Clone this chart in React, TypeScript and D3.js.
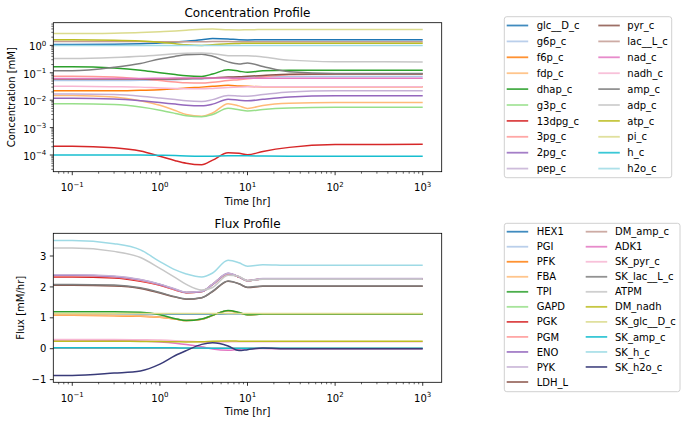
import React from "react";
import * as d3 from "d3";

// time points [hr]
const T = [0.0607, 0.1, 0.3, 0.6, 1, 1.5, 2, 3, 4, 6, 8, 10, 15, 30, 100, 1000];

const TAB20 = [
  "#1f77b4", "#aec7e8", "#ff7f0e", "#ffbb78", "#2ca02c", "#98df8a", "#d62728", "#ff9896",
  "#9467bd", "#c5b0d5", "#8c564b", "#c49c94", "#e377c2", "#f7b6d2", "#7f7f7f", "#c7c7c7",
  "#bcbd22", "#dbdb8d", "#17becf", "#9edae5", "#393b79",
];

// ---- concentrations [mM]
const concNames = [
  "glc__D_c", "g6p_c", "f6p_c", "fdp_c", "dhap_c", "g3p_c", "13dpg_c", "3pg_c", "2pg_c", "pep_c",
  "pyr_c", "lac__L_c", "nad_c", "nadh_c", "amp_c", "adp_c", "atp_c", "pi_c", "h_c", "h2o_c",
];
const glc__D_c = [1.08, 1.08, 1.1, 1.15, 1.22, 1.32, 1.42, 1.6, 1.78, 1.72, 1.6, 1.58, 1.6, 1.6, 1.6, 1.6];
const g6p_c = [0.052, 0.052, 0.052, 0.053, 0.054, 0.056, 0.058, 0.06, 0.063, 0.067, 0.068, 0.069, 0.071, 0.073, 0.074, 0.074];
const f6p_c = [0.022, 0.022, 0.022, 0.023, 0.024, 0.026, 0.028, 0.03, 0.032, 0.035, 0.033, 0.032, 0.031, 0.031, 0.031, 0.031];
const fdp_c = [0.015, 0.015, 0.013, 0.0095, 0.0065, 0.0042, 0.003, 0.0026, 0.0034, 0.0075, 0.0062, 0.005, 0.0064, 0.0077, 0.0083, 0.0083];
const dhap_c = [0.165, 0.165, 0.15, 0.125, 0.1, 0.086, 0.078, 0.074, 0.09, 0.13, 0.115, 0.104, 0.118, 0.124, 0.125, 0.125];
const g3p_c = [0.0074, 0.0074, 0.0069, 0.0056, 0.0043, 0.0033, 0.0027, 0.0025, 0.003, 0.0051, 0.0045, 0.004, 0.0046, 0.0052, 0.0055, 0.0055];
const dpg13_c = [2.1e-4, 2.1e-4, 1.85e-4, 1.4e-4, 9e-5, 6.2e-5, 5e-5, 4.4e-5, 6.5e-5, 1.2e-4, 1.15e-4, 1.02e-4, 1.35e-4, 1.9e-4, 2.4e-4, 2.45e-4];
const pg3_c = [0.075, 0.075, 0.07, 0.06, 0.052, 0.046, 0.043, 0.042, 0.045, 0.052, 0.056, 0.06, 0.07, 0.085, 0.09, 0.09];
const pg2_c = [0.0118, 0.0118, 0.011, 0.0095, 0.0082, 0.0072, 0.0066, 0.0063, 0.0072, 0.0108, 0.01, 0.0095, 0.0108, 0.013, 0.0145, 0.0146];
const pep_c = [0.017, 0.017, 0.016, 0.014, 0.012, 0.0105, 0.0095, 0.009, 0.0105, 0.0148, 0.0142, 0.0138, 0.016, 0.02, 0.022, 0.022];
const pyr_c = [0.06, 0.06, 0.06, 0.06, 0.06, 0.06, 0.061, 0.062, 0.065, 0.07, 0.072, 0.075, 0.08, 0.088, 0.09, 0.09];
const lac__L_c = [1.4, 1.4, 1.4, 1.38, 1.36, 1.35, 1.35, 1.36, 1.38, 1.38, 1.36, 1.35, 1.35, 1.35, 1.35, 1.35];
const nad_c = [0.062, 0.062, 0.062, 0.062, 0.063, 0.064, 0.065, 0.065, 0.065, 0.064, 0.063, 0.063, 0.063, 0.063, 0.063, 0.063];
const nadh_c = [0.032, 0.032, 0.031, 0.03, 0.028, 0.027, 0.026, 0.026, 0.027, 0.029, 0.03, 0.031, 0.031, 0.031, 0.031, 0.031];
const amp_c = [0.12, 0.12, 0.16, 0.22, 0.32, 0.4, 0.46, 0.48, 0.4, 0.25, 0.21, 0.23, 0.17, 0.11, 0.095, 0.095];
const adp_c = [0.33, 0.33, 0.36, 0.4, 0.45, 0.5, 0.52, 0.53, 0.5, 0.42, 0.42, 0.42, 0.38, 0.29, 0.255, 0.25];
const atp_c = [1.6, 1.6, 1.55, 1.45, 1.3, 1.15, 1.05, 1.0, 1.05, 1.15, 1.18, 1.2, 1.2, 1.2, 1.2, 1.2];
const pi_c = [2.7, 2.7, 2.8, 2.95, 3.15, 3.35, 3.55, 3.9, 3.95, 3.7, 3.65, 3.72, 3.78, 3.8, 3.8, 3.8];
const h_c = [1e-4, 1e-4, 1e-4, 1e-4, 9.8e-5, 9.5e-5, 9.2e-5, 9e-5, 9.1e-5, 9.4e-5, 9.4e-5, 9.3e-5, 9.2e-5, 9.1e-5, 9e-5, 9e-5];
const h2o_c = [1, 1, 1, 1, 1, 1, 1, 1, 1, 1, 1, 1, 1, 1, 1, 1];
const concValues = [
  glc__D_c, g6p_c, f6p_c, fdp_c, dhap_c, g3p_c, dpg13_c, pg3_c, pg2_c, pep_c,
  pyr_c, lac__L_c, nad_c, nadh_c, amp_c, adp_c, atp_c, pi_c, h_c, h2o_c,
];

// ---- fluxes [mM/hr]
const fluxNames = [
  "HEX1", "PGI", "PFK", "FBA", "TPI", "GAPD", "PGK", "PGM", "ENO", "PYK", "LDH_L",
  "DM_amp_c", "ADK1", "SK_pyr_c", "SK_lac__L_c", "ATPM", "DM_nadh", "SK_glc__D_c", "SK_amp_c", "SK_h_c", "SK_h2o_c",
];
const HEX1 = [1.13, 1.13, 1.13, 1.13, 1.13, 1.12, 1.12, 1.12, 1.12, 1.13, 1.13, 1.13, 1.13, 1.13, 1.13, 1.13];
const PGI = [1.1, 1.1, 1.09, 1.07, 1.03, 0.97, 0.92, 0.95, 1.08, 1.23, 1.17, 1.1, 1.12, 1.12, 1.12, 1.12];
const PFK = [1.08, 1.08, 1.07, 1.05, 1.02, 0.96, 0.91, 0.95, 1.08, 1.23, 1.16, 1.1, 1.12, 1.12, 1.12, 1.12];
const FBA = [1.09, 1.09, 1.08, 1.06, 1.02, 0.96, 0.91, 0.95, 1.08, 1.23, 1.16, 1.1, 1.12, 1.12, 1.12, 1.12];
const TPI = [1.2, 1.2, 1.2, 1.18, 1.1, 0.97, 0.91, 0.96, 1.08, 1.24, 1.17, 1.1, 1.12, 1.12, 1.12, 1.12];
const GAPD = [2.37, 2.37, 2.33, 2.22, 2.08, 1.92, 1.82, 1.85, 2.08, 2.43, 2.32, 2.2, 2.26, 2.26, 2.26, 2.26];
const PGK = [2.32, 2.32, 2.29, 2.18, 2.05, 1.9, 1.81, 1.85, 2.08, 2.43, 2.32, 2.2, 2.26, 2.26, 2.26, 2.26];
const PGM = [2.36, 2.36, 2.32, 2.21, 2.07, 1.91, 1.82, 1.85, 2.08, 2.43, 2.32, 2.2, 2.26, 2.26, 2.26, 2.26];
const ENO = [2.38, 2.38, 2.34, 2.23, 2.08, 1.92, 1.82, 1.85, 2.08, 2.44, 2.32, 2.2, 2.26, 2.26, 2.26, 2.26];
const PYK = [2.39, 2.39, 2.35, 2.24, 2.09, 1.93, 1.83, 1.86, 2.09, 2.44, 2.33, 2.21, 2.27, 2.27, 2.27, 2.27];
const LDH_L = [2.05, 2.05, 2.03, 1.95, 1.8, 1.67, 1.6, 1.65, 1.85, 2.18, 2.1, 1.98, 2.02, 2.02, 2.02, 2.02];
const DM_amp_c = [0.014, 0.014, 0.014, 0.014, 0.014, 0.014, 0.014, 0.014, 0.014, 0.014, 0.014, 0.014, 0.014, 0.014, 0.014, 0.014];
const ADK1 = [0.28, 0.28, 0.27, 0.25, 0.22, 0.18, 0.14, 0.06, -0.01, -0.05, -0.02, 0, 0.005, 0, 0, 0];
const SK_pyr_c = [0.3, 0.3, 0.3, 0.29, 0.28, 0.26, 0.24, 0.22, 0.21, 0.22, 0.225, 0.224, 0.224, 0.224, 0.224, 0.224];
const SK_lac__L_c = [2.08, 2.08, 2.06, 1.97, 1.82, 1.68, 1.61, 1.65, 1.86, 2.19, 2.1, 1.99, 2.03, 2.03, 2.03, 2.03];
const ATPM = [3.26, 3.26, 3.15, 2.95, 2.6, 2.3, 2.08, 1.9, 1.98, 2.38, 2.34, 2.2, 2.25, 2.25, 2.25, 2.25];
const DM_nadh = [0.24, 0.24, 0.24, 0.235, 0.23, 0.225, 0.22, 0.225, 0.24, 0.25, 0.245, 0.24, 0.24, 0.24, 0.24, 0.24];
const SK_glc__D_c = [1.14, 1.14, 1.14, 1.14, 1.14, 1.14, 1.14, 1.14, 1.14, 1.14, 1.14, 1.14, 1.14, 1.14, 1.14, 1.14];
const SK_amp_c = [0.03, 0.03, 0.03, 0.03, 0.03, 0.028, 0.025, 0.02, 0.018, 0.016, 0.015, 0.015, 0.014, 0.014, 0.014, 0.014];
const SK_h_c = [3.5, 3.5, 3.4, 3.2, 2.82, 2.55, 2.42, 2.32, 2.45, 2.86, 2.78, 2.67, 2.72, 2.7, 2.7, 2.7];
const SK_h2o_c = [-0.87, -0.87, -0.79, -0.72, -0.5, -0.22, -0.06, 0.14, 0.19, 0.09, -0.06, -0.03, 0.02, 0, 0, 0];
const fluxValues = [
  HEX1, PGI, PFK, FBA, TPI, GAPD, PGK, PGM, ENO, PYK, LDH_L,
  DM_amp_c, ADK1, SK_pyr_c, SK_lac__L_c, ATPM, DM_nadh, SK_glc__D_c, SK_amp_c, SK_h_c, SK_h2o_c,
];

const xDecades = [-1, 0, 1, 2, 3];
const concDecades = [-4, -3, -2, -1, 0];
const fluxTicks = [-1, 0, 1, 2, 3];

const FONT = "DejaVu Sans, sans-serif";
const L = 53.3, R = 441.7;

function Sup({ x, y, exp, anchor }: { x: number; y: number; exp: number; anchor: string }) {
  const e = exp < 0 ? "\u2212" + Math.abs(exp) : String(exp);
  return (
    <text x={x} y={y} fontSize={10} fontFamily={FONT} textAnchor={anchor} fill="#000">
      <tspan>10</tspan>
      <tspan dy={-4.6} fontSize={7}>{e}</tspan>
    </text>
  );
}

function Legend({ names, x, y, w, h, rowY0, rowStep, col2HandleX, col2TextX, rows }: any) {
  return (
    <g>
      <rect x={x} y={y} width={w} height={h} rx={2.5} fill="white" fillOpacity={0.8} stroke="#d0d0d0" strokeWidth={1} />
      {names.map((n: string, i: number) => {
        const col = Math.floor(i / rows);
        const r = i % rows;
        const cy = rowY0 + r * rowStep;
        const hx = col === 0 ? 506.7 : col2HandleX;
        const tx = col === 0 ? 536.7 : col2TextX;
        return (
          <g key={n}>
            <line x1={hx} x2={hx + 21.5} y1={cy} y2={cy} stroke={TAB20[i]} strokeWidth={1.8} strokeOpacity={0.85} />
            <text x={tx} y={cy + 3.6} fontSize={10} fontFamily={FONT} fill="#000">{n}</text>
          </g>
        );
      })}
    </g>
  );
}

function XAxis({ x, bottom }: { x: any; bottom: number }) {
  const [d0, d1] = x.domain();
  const minors: number[] = [];
  for (let k = -2; k <= 3; k++) for (let m = 2; m <= 9; m++) {
    const v = m * Math.pow(10, k);
    if (v >= d0 && v <= d1) minors.push(v);
  }
  return (
    <g>
      {minors.map((v) => (
        <line key={"m" + v} x1={x(v)} x2={x(v)} y1={bottom} y2={bottom + 2} stroke="#000" strokeWidth={0.6} />
      ))}
      {xDecades.map((k) => (
        <g key={k}>
          <line x1={x(Math.pow(10, k))} x2={x(Math.pow(10, k))} y1={bottom} y2={bottom + 3.5} stroke="#000" strokeWidth={0.8} />
          <Sup x={x(Math.pow(10, k))} y={bottom + 19.7} exp={k} anchor="middle" />
        </g>
      ))}
      <text x={(L + R) / 2} y={bottom + 33} fontSize={10} fontFamily={FONT} textAnchor="middle">Time [hr]</text>
    </g>
  );
}

export default function App() {
  const x = d3.scaleLog().domain([Math.pow(10, -1.2166), Math.pow(10, 3.2166)]).range([L, R]);

  const top1 = 22.7, bot1 = 171.7;
  const y1 = d3.scaleLog().domain([Math.pow(10, -4.609), Math.pow(10, 0.828)]).range([bot1, top1]);
  const top2 = 233.3, bot2 = 382.3;
  const y2 = d3.scaleLinear().domain([-1.087, 3.735]).range([bot2, top2]);

  const line1 = d3.line<number>().x((_, i) => x(T[i])).y((d) => y1(d)).curve(d3.curveMonotoneX);
  const line2 = d3.line<number>().x((_, i) => x(T[i])).y((d) => y2(d)).curve(d3.curveMonotoneX);

  const yMinor: number[] = [];
  for (let k = -5; k <= 0; k++) for (let m = 2; m <= 9; m++) {
    const v = m * Math.pow(10, k);
    if (v >= y1.domain()[0] && v <= y1.domain()[1]) yMinor.push(v);
  }

  return (
    <svg width={687} height={424} style={{ position: "absolute", left: 0, top: 0 }}>
      <rect width={687} height={424} fill="white" />
      <defs>
        <clipPath id="c1"><rect x={L} y={top1} width={R - L} height={bot1 - top1} /></clipPath>
        <clipPath id="c2"><rect x={L} y={top2} width={R - L} height={bot2 - top2} /></clipPath>
      </defs>

      {/* ---- Concentration panel */}
      <text x={(L + R) / 2} y={17} fontSize={12} fontFamily={FONT} textAnchor="middle">Concentration Profile</text>
      <g clipPath="url(#c1)">
        {concValues.map((vals, i) => (
          <path key={concNames[i]} d={line1(vals) || ""} fill="none" stroke={TAB20[i]} strokeWidth={1.5} />
        ))}
      </g>
      {yMinor.map((v) => (
        <line key={"ym" + v} x1={L - 2} x2={L} y1={y1(v)} y2={y1(v)} stroke="#000" strokeWidth={0.6} />
      ))}
      {concDecades.map((k) => (
        <g key={"yt" + k}>
          <line x1={L - 3.5} x2={L} y1={y1(Math.pow(10, k))} y2={y1(Math.pow(10, k))} stroke="#000" strokeWidth={0.8} />
          <Sup x={L - 7} y={y1(Math.pow(10, k)) + 5} exp={k} anchor="end" />
        </g>
      ))}
      <XAxis x={x} bottom={bot1} />
      <text transform={`translate(14.6, ${(top1 + bot1) / 2}) rotate(-90)`} fontSize={10} fontFamily={FONT} textAnchor="middle">Concentration [mM]</text>
      <rect x={L} y={top1} width={R - L} height={bot1 - top1} fill="none" stroke="#000" strokeWidth={0.8} />

      {/* ---- Flux panel */}
      <text x={(L + R) / 2} y={228} fontSize={12} fontFamily={FONT} textAnchor="middle">Flux Profile</text>
      <g clipPath="url(#c2)">
        {fluxValues.map((vals, i) => (
          <path key={fluxNames[i]} d={line2(vals) || ""} fill="none" stroke={TAB20[i]} strokeWidth={1.5} />
        ))}
      </g>
      {fluxTicks.map((v) => (
        <g key={"ft" + v}>
          <line x1={L - 3.5} x2={L} y1={y2(v)} y2={y2(v)} stroke="#000" strokeWidth={0.8} />
          <text x={L - 7} y={y2(v) + 3.6} fontSize={10} fontFamily={FONT} textAnchor="end">{v < 0 ? "\u2212" + Math.abs(v) : String(v)}</text>
        </g>
      ))}
      <XAxis x={x} bottom={bot2} />
      <text transform={`translate(24, ${(top2 + bot2) / 2}) rotate(-90)`} fontSize={10} fontFamily={FONT} textAnchor="middle">Flux [mM/hr]</text>
      <rect x={L} y={top2} width={R - L} height={bot2 - top2} fill="none" stroke="#000" strokeWidth={0.8} />

      {/* ---- Legends */}
      <Legend names={concNames} x={504.3} y={16.7} w={167.4} h={161} rowY0={25.5} rowStep={15.9}
        col2HandleX={598.3} col2TextX={627.3} rows={10} />
      <Legend names={fluxNames} x={504.3} y={223.3} w={175.7} h={168.4} rowY0={231.7} rowStep={15.03}
        col2HandleX={585.7} col2TextX={615} rows={11} />
    </svg>
  );
}
